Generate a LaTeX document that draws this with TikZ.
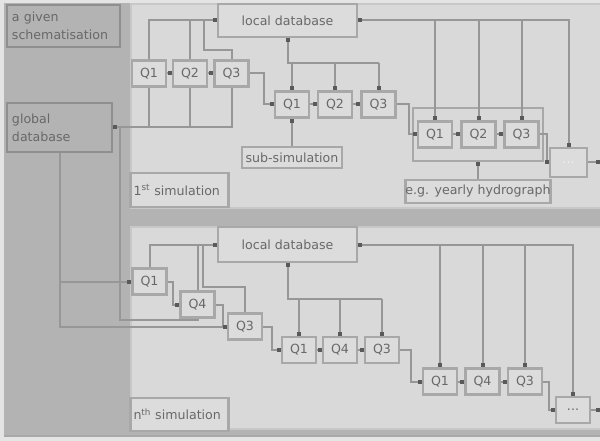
\documentclass[tikz,border=0pt]{standalone}
\usepackage{fontspec}
\setmainfont{DejaVu Sans}
\usetikzlibrary{arrows.meta}
\definecolor{bgout}{HTML}{E4E4E4}
\definecolor{colgrey}{HTML}{B3B3B3}
\definecolor{panelc}{HTML}{D9D9D9}
\definecolor{panelb}{HTML}{C8C8C8}
\definecolor{boxfill}{HTML}{DCDCDC}
\definecolor{boxline}{HTML}{A8A8A8}
\definecolor{wirec}{HTML}{979797}
\definecolor{tipc}{HTML}{5A5A5A}
\definecolor{txt}{HTML}{686868}
\begin{document}
\begin{tikzpicture}[x=1pt,y=-1pt,
  sqm/.tip={Square[length=4pt,width=4pt,color=tipc]},
  gbox/.style={draw=boxline, fill=boxfill, line width=2.2pt, inner sep=0pt, text=txt,
    font=\fontsize{12.6}{18}\selectfont},
  qbox/.style={gbox, minimum width=34pt, minimum height=26pt},
  lbox/.style={gbox, align=left, text width=#1, inner xsep=5pt},
  simbox/.style={gbox, align=left, text width=92pt, inner xsep=3pt, minimum width=97pt},
  colbox/.style={lbox=#1, fill=colgrey, draw=boxline!85!black},
  wire/.style={draw=wirec, line width=2pt},
  panel/.style={fill=panelc, draw=panelb, line width=1.5pt}
]
\useasboundingbox (0,0) rectangle (600,441);
% backgrounds
\fill[bgout] (0,0) rectangle (600,441);
\fill[colgrey] (4,3) rectangle (600,437);
\draw[boxline, line width=1.5pt] (4,436) -- (600,436);
\draw[panel] (131,4) rectangle (601,208);
\draw[panel] (131,227) rectangle (601,429);

% left column
\node[colbox=103pt, minimum width=113pt, minimum height=42pt] (schem) at (63.5,26) {a given\\schematisation};
\node[colbox=95pt, minimum width=105pt, minimum height=49pt] (glob) at (59.5,127.5) {global\\database};

% ---------- first simulation ----------
\node[gbox, minimum width=139pt, minimum height=33pt] (ldbA) at (287.5,20.5) {local database};
\node[qbox] (qa1) at (149,73.5) {Q1};
\node[qbox] (qa2) at (190,73.5) {Q2};
\node[qbox] (qa3) at (231.5,73.5) {Q3};
\node[qbox] (qb1) at (292,104.5) {Q1};
\node[qbox] (qb2) at (335,104.5) {Q2};
\node[qbox] (qb3) at (378.5,104.5) {Q3};
\node[gbox, fill=panelc, minimum width=130pt, minimum height=53pt] (encl) at (478,134.5) {};
\node[qbox] (qc1) at (435,134.5) {Q1};
\node[qbox] (qc2) at (478.5,134.5) {Q2};
\node[qbox] (qc3) at (521.5,134.5) {Q3};
\node[gbox, minimum width=37pt, minimum height=29pt] (dotsA) at (568.5,162.5) {\textcolor{boxfill!40!white}{...}};
\node[gbox, minimum width=100pt, minimum height=21pt] (sub) at (292,157.5) {sub-simulation};
\node[gbox, minimum width=145pt, minimum height=23pt] (hydro) at (478,191.5) {e.g. yearly hydrograph};
\node[simbox, minimum height=34pt] (sim1) at (179.5,190) {1\textsuperscript{st} simulation};
\coordinate (outA) at (600,162.5);
\coordinate (busA) at (287.5,63);

\draw[wire, sqm-] (ldbA.west) -| (qa1.north);
\draw[wire] (qa2.north |- ldbA.west) -- (qa2.north);
\draw[wire] (204,20.5) -- (204,50) -| (qa3.north);
\draw[wire, -sqm] (qa3.south) -- (qa3.south |- glob.east) -- (glob.east);
\draw[wire] (qa1.south) -- (qa1.south |- glob.east);
\draw[wire] (qa2.south) -- (qa2.south |- glob.east);
\draw[wire, -sqm] (qa1.east) -- (qa2.west);
\draw[wire, -sqm] (qa2.east) -- (qa3.west);
\draw[wire, -sqm] (qa3.east) -- ++(14,0) |- (qb1.west);
\draw[wire, sqm-] (ldbA.south) -- (busA) -- (busA -| qb3.north);
\draw[wire, -sqm] (qb1.north |- busA) -- (qb1.north);
\draw[wire, -sqm] (qb2.north |- busA) -- (qb2.north);
\draw[wire, -sqm] (qb3.north |- busA) -- (qb3.north);
\draw[wire, -sqm] (sub.north) -- (qb1.south);
\draw[wire, -sqm] (qb1.east) -- (qb2.west);
\draw[wire, -sqm] (qb2.east) -- (qb3.west);
\draw[wire, -sqm] (qb3.east) -- ++(12,0) |- (qc1.west);
\draw[wire, sqm-sqm] (ldbA.east) -- (dotsA.north |- ldbA.east) -- (dotsA.north);
\draw[wire, -sqm] (qc1.north |- ldbA.east) -- (qc1.north);
\draw[wire, -sqm] (qc2.north |- ldbA.east) -- (qc2.north);
\draw[wire, -sqm] (qc3.north |- ldbA.east) -- (qc3.north);
\draw[wire, -sqm] (qc1.east) -- (qc2.west);
\draw[wire, -sqm] (qc2.east) -- (qc3.west);
\draw[wire, -sqm] (qc3.east) -- ++(7,0) |- (dotsA.west);
\draw[wire, -sqm] (dotsA.east) -- (outA);
\draw[wire, -sqm] (hydro.north) -- (encl.south);

% ---------- n-th simulation ----------
\node[gbox, minimum width=139pt, minimum height=35pt] (ldbB) at (287.5,244.5) {local database};
\node[qbox] (qd1) at (149.5,281.5) {Q1};
\node[qbox] (qd2) at (197.5,304.5) {Q4};
\node[qbox] (qd3) at (245,326.5) {Q3};
\node[qbox] (qe1) at (299,350) {Q1};
\node[qbox] (qe2) at (340,350) {Q4};
\node[qbox] (qe3) at (382,350) {Q3};
\node[qbox] (qf1) at (440,381.5) {Q1};
\node[qbox] (qf2) at (482.5,381.5) {Q4};
\node[qbox] (qf3) at (525,381.5) {Q3};
\node[gbox, minimum width=34pt, minimum height=26pt] (dotsB) at (573,410) {...};
\node[simbox, minimum height=33pt] (simn) at (179.5,414.5) {n\textsuperscript{th} simulation};
\coordinate (outB) at (600,410);
\coordinate (busB) at (287.5,299);
\coordinate (gj) at (120,127.5);

\draw[wire, sqm-] (ldbB.west) -| (qd1.north);
\draw[wire] (qd2.north |- ldbB.west) -- (qd2.north);
\draw[wire] (203,244.5) -- (203,287) -| (qd3.north);
\draw[wire, -sqm] (glob.south) -- (glob.south |- qd3.west) -- (qd3.west);
\draw[wire, -sqm] (glob.south |- qd1.west) -- (qd1.west);
\draw[wire] (gj) -- (gj |- 0,320) -| (qd2.south);
\draw[wire, -sqm] (qd1.east) -- ++(5,0) |- (qd2.west);
\draw[wire, -sqm] (qd2.east) -- ++(7,0) |- (qd3.west);
\draw[wire, -sqm] (qd3.east) -- ++(9,0) |- (qe1.west);
\draw[wire, sqm-] (ldbB.south) -- (busB) -- (busB -| qe3.north);
\draw[wire, -sqm] (qe1.north |- busB) -- (qe1.north);
\draw[wire, -sqm] (qe2.north |- busB) -- (qe2.north);
\draw[wire, -sqm] (qe3.north |- busB) -- (qe3.north);
\draw[wire, -sqm] (qe1.east) -- (qe2.west);
\draw[wire, -sqm] (qe2.east) -- (qe3.west);
\draw[wire, -sqm] (qe3.east) -- ++(11,0) |- (qf1.west);
\draw[wire, sqm-sqm] (ldbB.east) -- (dotsB.north |- ldbB.east) -- (dotsB.north);
\draw[wire, -sqm] (qf1.north |- ldbB.east) -- (qf1.north);
\draw[wire, -sqm] (qf2.north |- ldbB.east) -- (qf2.north);
\draw[wire, -sqm] (qf3.north |- ldbB.east) -- (qf3.north);
\draw[wire, -sqm] (qf1.east) -- (qf2.west);
\draw[wire, -sqm] (qf2.east) -- (qf3.west);
\draw[wire, -sqm] (qf3.east) -- ++(6,0) |- (dotsB.west);
\draw[wire, -sqm] (dotsB.east) -- (outB);
\end{tikzpicture}
\end{document}
